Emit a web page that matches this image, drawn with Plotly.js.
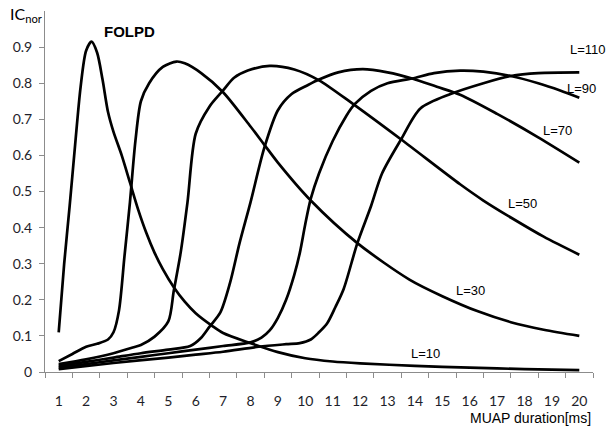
<!DOCTYPE html>
<html><head><meta charset="utf-8">
<script src="https://cdn.plot.ly/plotly-3.0.1.min.js"></script>
<style>html,body{margin:0;padding:0;background:#fff}#chart{width:608px;height:432px}</style>
</head><body><div id="chart"></div>
<script>
// Category labels on the x axis (MUAP duration, ms)
const xTickLabels = ["1","2","3","4","5","6","7","8","9","10","11","12","13","14","15","16","17","18","19","20"];
const yTickValues = [0,0.1,0.2,0.3,0.4,0.5,0.6,0.7,0.8,0.9];
const seriesNames = ["L=10","L=30","L=50","L=70","L=90","L=110"];

// L=10
const x10 = [1,1.2,1.4,1.6,1.8,2.0,2.2,2.4,2.6,2.8,3.0,3.3,3.6,3.9,4.2,4.5,4.8,5.2,5.6,6.0,6.6,7.0,8.0,9.0,10,11,12,14,16,18,20];
const y10 = [0.11,0.30,0.46,0.63,0.79,0.89,0.915,0.885,0.81,0.72,0.665,0.60,0.525,0.45,0.385,0.33,0.285,0.235,0.195,0.163,0.128,0.108,0.08,0.055,0.038,0.029,0.024,0.017,0.012,0.008,0.005];
// L=30
const x30 = [1,1.5,2.0,2.4,2.8,3.0,3.2,3.4,3.6,3.8,4.0,4.3,4.8,5.3,5.6,6.2,7.0,8.0,8.5,9.0,10.2,11.9,13.8,15.0,16.3,17.5,18.7,20];
const y30 = [0.03,0.05,0.07,0.078,0.09,0.11,0.17,0.32,0.47,0.64,0.75,0.80,0.845,0.86,0.855,0.828,0.775,0.68,0.63,0.58,0.475,0.357,0.256,0.21,0.168,0.138,0.117,0.10];
// L=50
const x50 = [1,2,3,3.7,4.0,4.5,5.0,5.2,5.45,5.7,6.0,6.5,7.0,7.4,7.9,8.7,9.6,10.5,11.75,13.5,15.65,16.5,17.5,18.7,20];
const y50 = [0.022,0.035,0.052,0.068,0.075,0.098,0.14,0.225,0.33,0.47,0.66,0.735,0.78,0.815,0.835,0.848,0.838,0.808,0.742,0.644,0.52,0.475,0.428,0.375,0.325];
// L=70
const x70 = [1,2,3,4,5,5.8,6.2,6.5,6.9,7.25,7.6,8.0,8.5,9.0,9.5,10.1,10.5,11.2,12.1,13.0,13.9,14.8,15.65,17.0,18.5,20];
const y70 = [0.017,0.028,0.04,0.052,0.062,0.072,0.095,0.125,0.165,0.246,0.357,0.47,0.62,0.725,0.77,0.795,0.81,0.83,0.839,0.83,0.813,0.79,0.768,0.715,0.65,0.58];
// L=90
const x90 = [1,2,3,4,5,6,7,8,8.4,8.7,9.0,9.3,9.6,9.8,10.0,10.2,10.5,11,11.5,11.8,12.4,13.0,13.9,14.7,15.65,16.5,17.5,18.5,19.3,20];
const y90 = [0.012,0.022,0.032,0.042,0.052,0.062,0.072,0.082,0.095,0.115,0.15,0.2,0.27,0.33,0.41,0.48,0.55,0.64,0.71,0.742,0.779,0.80,0.813,0.828,0.835,0.832,0.82,0.80,0.78,0.76];
// L=110
const x110 = [1,3,5,6,7,8.3,9.3,9.8,10.2,10.5,10.8,11.1,11.4,11.9,12.4,12.8,13.5,14.2,15.3,16.5,17.5,18.5,20];
const y110 = [0.008,0.025,0.04,0.048,0.056,0.07,0.077,0.08,0.09,0.11,0.135,0.18,0.23,0.357,0.46,0.55,0.645,0.73,0.77,0.80,0.82,0.828,0.83];

const xs = [x10,x30,x50,x70,x90,x110];
const ys = [y10,y30,y50,y70,y90,y110];

const traces = xs.map((xv,i)=>({
  x: xv, y: ys[i], name: seriesNames[i], type:'scatter', mode:'lines',
  line:{color:'#000', width:2.7, shape:'spline', smoothing:0.8},
  hoverinfo:'skip', showlegend:false
}));

const xTickVals = xTickLabels.map(Number);
const labelFont = {family:'Liberation Sans, Arial, sans-serif', size:13, color:'#000'};
const tickFont = {family:'Lato, Calibri, sans-serif', size:14, color:'#1e1e2a'};

const layout = {
  width:608, height:432,
  margin:{l:45, r:15, t:11, b:60, pad:0},
  paper_bgcolor:'#fff', plot_bgcolor:'#fff',
  showlegend:false,
  xaxis:{
    range:[0.5,20.5], tickmode:'array', tickvals:xTickVals, ticktext:xTickLabels,
    ticks:'', showgrid:false, zeroline:false, showline:true, linecolor:'#8c8c8c', linewidth:1,
    tickfont:tickFont, ticklabelstandoff:16,
    minor:{tickmode:'linear', tick0:0.5, dtick:1, ticks:'outside', ticklen:5, tickcolor:'#8c8c8c', tickwidth:1, showgrid:false}
  },
  yaxis:{
    range:[0,1.0], tickmode:'array', tickvals:yTickValues, ticktext:yTickValues.map(String),
    ticks:'outside', ticklen:5, tickcolor:'#8c8c8c', showgrid:false, zeroline:false,
    showline:true, linecolor:'#8c8c8c', linewidth:1, tickfont:tickFont, ticklabelstandoff:4
  },
  annotations:[
    {text:'<b>FOLPD</b>', x:3.59, y:0.944, xref:'x', yref:'y', showarrow:false, font:{family:'Liberation Sans, Arial, sans-serif', size:15, color:'#000'}},
    {text:'L=110', x:20.33, y:0.894, xref:'x', yref:'y', showarrow:false, font:labelFont},
    {text:'L=90', x:20.07, y:0.786, xref:'x', yref:'y', showarrow:false, font:labelFont},
    {text:'L=70', x:19.2, y:0.669, xref:'x', yref:'y', showarrow:false, font:labelFont},
    {text:'L=50', x:17.92, y:0.467, xref:'x', yref:'y', showarrow:false, font:labelFont},
    {text:'L=30', x:16.02, y:0.225, xref:'x', yref:'y', showarrow:false, font:labelFont},
    {text:'L=10', x:14.37, y:0.05, xref:'x', yref:'y', showarrow:false, font:labelFont},
    {text:'IC<sub>nor</sub>', x:-0.035, y:0.99, xref:'paper', yref:'paper', xanchor:'center', yanchor:'middle', showarrow:false, font:{family:'Lato, Calibri, sans-serif', size:16, color:'#000'}},
    {text:'MUAP duration[ms]', x:1.0, y:-0.127, xref:'paper', yref:'paper', xanchor:'right', yanchor:'middle', showarrow:false, font:{family:'Liberation Sans, Arial, sans-serif', size:14, color:'#000'}}
  ]
};

Plotly.newPlot('chart', traces, layout, {staticPlot:true, displayModeBar:false});
</script>
</body></html>
